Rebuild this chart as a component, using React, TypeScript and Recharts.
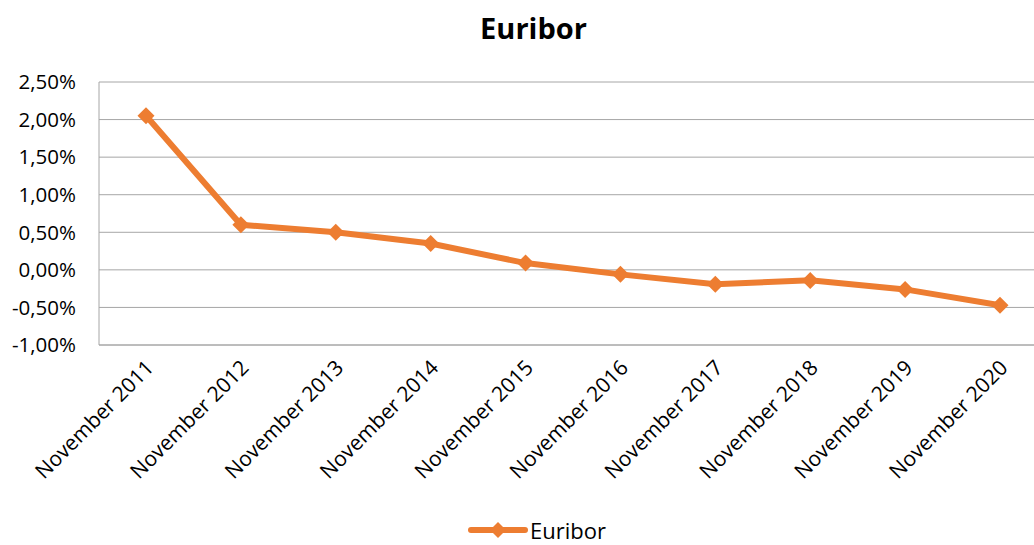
import { LineChart, Line, XAxis, YAxis, CartesianGrid, Legend } from 'recharts';

const months = [
  'November 2011',
  'November 2012',
  'November 2013',
  'November 2014',
  'November 2015',
  'November 2016',
  'November 2017',
  'November 2018',
  'November 2019',
  'November 2020',
];

// 12-month Euribor, in percent
const euribor = [2.05, 0.6, 0.5, 0.35, 0.09, -0.06, -0.19, -0.14, -0.26, -0.47];

const yTicks = [-1, -0.5, 0, 0.5, 1, 1.5, 2, 2.5];

const chartData = months.map((month, i) => ({ month, Euribor: euribor[i] }));

const ORANGE = '#ED7D31';
const GRID = '#a6a6a6';
const FONT = '"Open Sans", sans-serif';

const formatPct = (v: number) => v.toFixed(2).replace('.', ',') + '%';

const Diamond = ({ cx, cy }: any) => {
  if (cx == null || cy == null) return <g />;
  const r = 8.5;
  return (
    <polygon
      points={`${cx},${cy - r} ${cx + r},${cy} ${cx},${cy + r} ${cx - r},${cy}`}
      fill={ORANGE}
    />
  );
};

const MonthTick = ({ x, y, payload }: any) => {
  const tx = x + 9;
  const ty = y + 16;
  return (
    <text
      x={tx}
      y={ty}
      transform={`rotate(-45, ${tx}, ${ty})`}
      textAnchor="end"
      fontSize={21}
      fontFamily={FONT}
      fill="#000"
    >
      {payload.value}
    </text>
  );
};

const renderLegend = () => (
  <div style={{ display: 'flex', justifyContent: 'center', alignItems: 'center', height: 30 }}>
    <svg width={60} height={20} style={{ marginRight: 2 }}>
      <line x1={3} y1={10} x2={57} y2={10} stroke={ORANGE} strokeWidth={6} strokeLinecap="round" />
      <polygon points="30,2 38,10 30,18 22,10" fill={ORANGE} />
    </svg>
    <span style={{ fontFamily: FONT, fontSize: 22, color: '#000' }}>Euribor</span>
  </div>
);

export default function App() {
  return (
    <div
      style={{
        position: 'absolute',
        left: 0,
        top: 0,
        width: 1034,
        height: 545,
        overflow: 'hidden',
        background: '#fff',
      }}
    >
      <div
        style={{
          position: 'absolute',
          left: 0,
          top: 0,
          width: 1067,
          height: 56,
          lineHeight: '56px',
          textAlign: 'center',
          fontFamily: FONT,
          fontWeight: 700,
          fontSize: 29,
          color: '#000',
        }}
      >
        Euribor
      </div>
      <LineChart
        width={1050}
        height={545}
        data={chartData}
        margin={{ top: 82, right: 3, left: 8, bottom: 0 }}
      >
        <CartesianGrid vertical={false} stroke={GRID} />
        <XAxis
          dataKey="month"
          interval={0}
          padding={{ left: 47, right: 47 }}
          axisLine={{ stroke: GRID }}
          tickLine={false}
          height={170}
          tick={<MonthTick />}
        />
        <YAxis
          domain={[-1, 2.5]}
          ticks={yTicks}
          interval={0}
          width={91}
          axisLine={{ stroke: GRID }}
          tickLine={false}
          tickSize={0}
          tickMargin={23}
          tickFormatter={formatPct}
          tick={{ fontSize: 20.5, fontFamily: FONT, fill: '#000' }}
        />
        <Legend
          verticalAlign="bottom"
          content={renderLegend}
          wrapperStyle={{ left: 0, width: 1074, bottom: 0 }}
        />
        <Line
          type="linear"
          dataKey="Euribor"
          stroke={ORANGE}
          strokeWidth={6}
          dot={<Diamond />}
          activeDot={false}
          isAnimationActive={false}
        />
      </LineChart>
    </div>
  );
}
